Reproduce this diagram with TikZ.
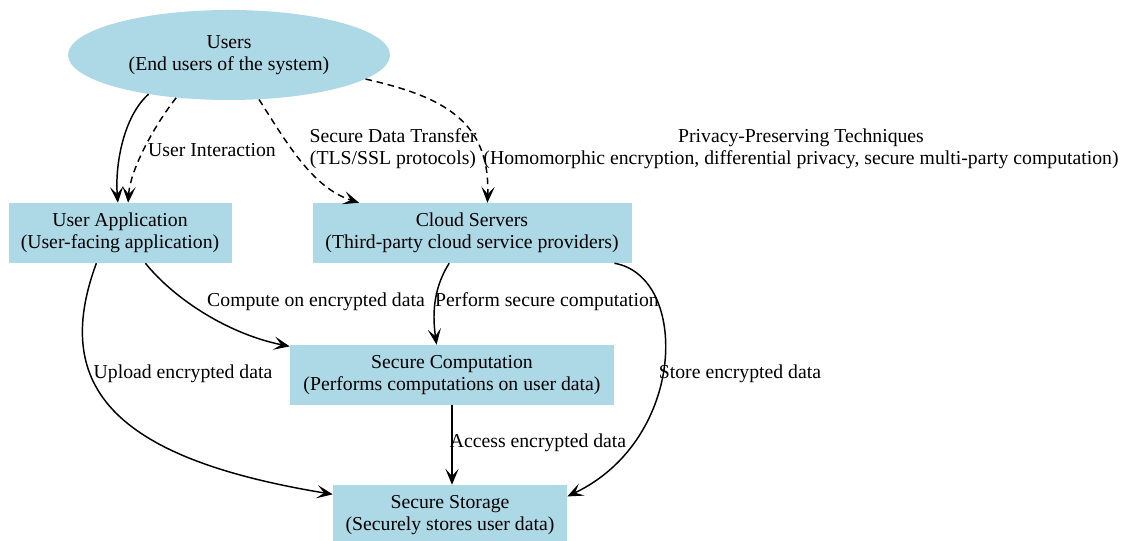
\documentclass[tikz,border=0pt]{standalone}
\usepackage{fontspec}
\setmainfont{Liberation Serif}
\usepackage{xcolor}
\usepackage{tikz}
\usetikzlibrary{positioning,shapes.geometric,arrows.meta}

\definecolor{nodeblue}{RGB}{173,216,230}

\begin{document}
\begin{tikzpicture}[x=0.75pt, y=0.75pt,
    every node/.style={font=\fontsize{14.8}{16.5}\selectfont, align=center},
    box/.style={rectangle, fill=nodeblue, inner sep=0pt, minimum height=45pt},
    userell/.style={ellipse, fill=nodeblue, inner sep=0pt,
        minimum width=241.5pt, minimum height=67.5pt},
    lbl/.style={inner sep=0pt},
    flow/.style={line width=1.1pt,
        -{Stealth[length=12pt, width=10pt, inset=5.5pt]}},
    dflow/.style={flow, dash pattern=on 5pt off 3.5pt}]

\useasboundingbox (0,0) rectangle (1124,-541);

% Components of the system
\node[userell] (users) at (229,-55) {Users\\(End users of the system)};
\node[box, minimum width=167.25pt] (userapp) at (120,-233)
    {User Application\\(User-facing application)};
\node[box, minimum width=239.25pt] (cloud) at (472,-233)
    {Cloud Servers\\(Third-party cloud service providers)};
\node[box, minimum width=243pt] (seccomp) at (452,-375)
    {Secure Computation\\(Performs computations on user data)};
\node[box, minimum width=175.5pt] (storage) at (450,-515)
    {Secure Storage\\(Securely stores user data)};

% Users to the application and to the cloud
\draw[flow] (users.206) .. controls +(-25,-22) and +(-3,38) .. (userapp.94);
\draw[dflow] (users.219) .. controls +(-22,-28) and +(2,33) .. (userapp.75);
\draw[dflow] (users.304) .. controls +(27,-42) and +(-47,15) .. (cloud.165);
\draw[dflow] (users.350) .. controls +(75,-17) and +(3,83) .. (cloud.63);

% Data flow towards computation and storage
\draw[flow] (userapp.310) .. controls +(30,-37) and +(-60,12) .. (seccomp.170);
\draw[flow] (userapp.232) .. controls +(-47,-127) and +(-213,35) .. (storage.170);
\draw[flow] (cloud.233) .. controls +(-14,-22) and +(-5,35) .. (seccomp.117);
\draw[flow] (cloud.348) .. controls +(75,-13) and +(120,57) .. (storage.9);
\draw[flow] (seccomp.south) -- (seccomp.south |- storage.north);

% Edge labels
\node[lbl] (interact) at (212,-150) {User Interaction};
\node[lbl] (transfer) at (393,-149) {Secure Data Transfer\\(TLS/SSL protocols)};
\node[lbl] (privacy) at (801,-149) {Privacy-Preserving Techniques\\(Homomorphic encryption, differential privacy, secure multi-party computation)};
\node[lbl] (compute) at (316,-302) {Compute on encrypted data};
\node[lbl] (perform) at (547,-302) {Perform secure computation};
\node[lbl] (upload) at (183,-374) {Upload encrypted data};
\node[lbl] (store) at (740,-374) {Store encrypted data};
\node[lbl] (access) at (538,-443) {Access encrypted data};

\end{tikzpicture}
\end{document}
